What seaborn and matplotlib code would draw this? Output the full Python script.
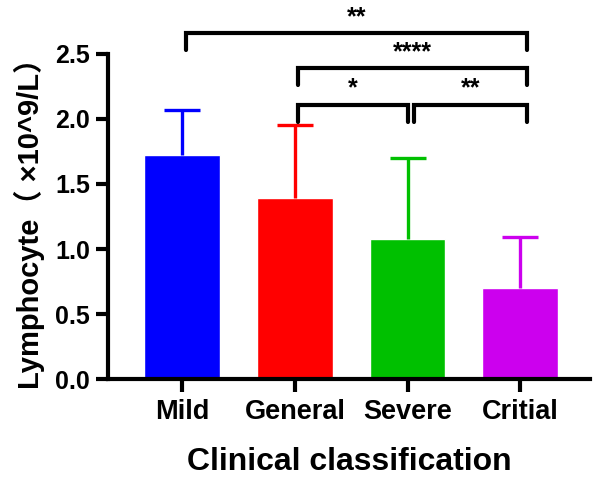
import matplotlib
matplotlib.use("Agg")
import matplotlib.pyplot as plt
import seaborn as sns
import pandas as pd

groups = ["Mild", "General", "Severe", "Critial"]
means = [1.72, 1.39, 1.08, 0.70]
upper_err = [0.35, 0.565, 0.62, 0.39]
colors = ["#0000FF", "#FF0000", "#00C000", "#CC00EE"]

# significance brackets: (left group, right group, bracket height, label)
comparisons = [
    (0, 3, 2.66, "**"),
    (1, 3, 2.39, "****"),
    (1, 2, 2.11, "*"),
    (2, 3, 2.11, "**"),
]

sns.set_style("ticks")
plt.rcParams["font.family"] = ["Liberation Sans", "Noto Sans CJK SC", "DejaVu Sans"]
plt.rcParams["font.weight"] = "bold"
for key in ["text.color", "axes.labelcolor", "xtick.color", "ytick.color", "axes.edgecolor"]:
    plt.rcParams[key] = "black"

df = pd.DataFrame({"group": groups, "value": means})

fig = plt.figure(figsize=(5.96, 4.86), dpi=100)
ax = fig.add_axes([0.181, 0.22, 0.809, 0.669])

sns.barplot(data=df, x="group", y="value", hue="group", palette=colors,
            saturation=1, width=0.67, legend=False, ax=ax)

for i, (m, e, c) in enumerate(zip(means, upper_err, colors)):
    _, caps, _ = ax.errorbar(i, m, yerr=[[0], [e]], color=c, elinewidth=2.4,
                             capsize=13, capthick=2.4, zorder=1)
    caps[0].remove()  # only the upper cap

drop = 0.13
for a, b, h, label in comparisons:
    xa = a + 0.03
    xb = b + 0.06 if b == 3 else b
    if a == 2:
        xa = a + 0.06
    ax.plot([xa, xa, xb, xb], [h - drop, h, h, h - drop], color="black",
            lw=3, clip_on=False, solid_joinstyle="miter")
    ax.text((xa + xb) / 2, h + 0.03, label, ha="center", va="bottom",
            fontsize=18, fontweight="bold", clip_on=False)

ax.set_xlim(-0.66, 3.62)
ax.set_ylim(0, 2.5)
ax.set_yticks([0.0, 0.5, 1.0, 1.5, 2.0, 2.5])
ax.set_yticklabels(["0.0", "0.5", "1.0", "1.5", "2.0", "2.5"])

for s in ["top", "right"]:
    ax.spines[s].set_visible(False)
for s in ["left", "bottom"]:
    ax.spines[s].set_linewidth(3)
ax.tick_params(axis="both", width=3, length=9, labelsize=18, pad=4)
ax.tick_params(axis="x", labelsize=19.5, pad=5)
for lbl in ax.get_xticklabels() + ax.get_yticklabels():
    lbl.set_fontweight("bold")

ax.set_xlabel("Clinical classification", fontsize=23, fontweight="bold", labelpad=16)
ax.set_ylabel("Lymphocyte（ ×10^9/L）", fontsize=21, fontweight="bold", labelpad=7)

fig.savefig("out.png", dpi=100)
